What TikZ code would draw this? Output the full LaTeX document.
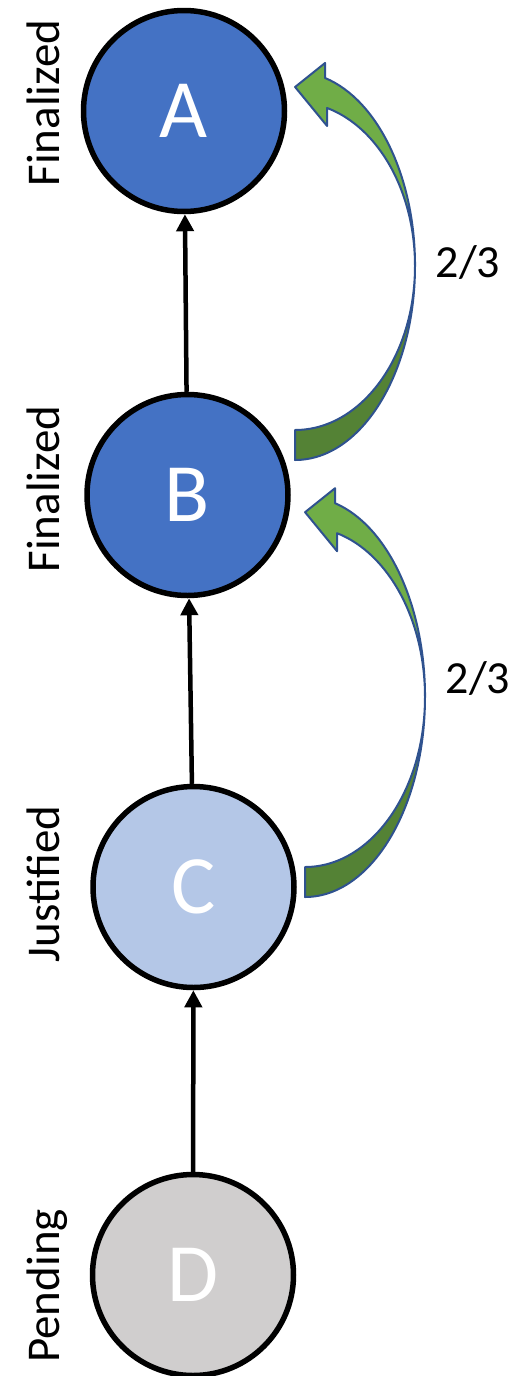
\documentclass[tikz,border=0pt]{standalone}
\usepackage{fontspec}
\setmainfont{Carlito}
\usetikzlibrary{positioning, arrows.meta}

\definecolor{finalblue}{HTML}{4472C4}
\definecolor{justblue}{HTML}{B4C7E7}
\definecolor{pendgray}{HTML}{D0CECE}
\definecolor{voteface}{HTML}{70AD47}
\definecolor{voteback}{HTML}{548235}
\definecolor{voteline}{HTML}{2F528F}

\tikzset{
    block/.style={circle, draw=black, line width=5.5pt, minimum size=201pt,
        inner sep=0pt, text=white, font=\fontsize{83}{90}\selectfont},
    status/.style={rotate=90, anchor=base, font=\fontsize{47}{56}\selectfont},
    link/.style={line width=4.5pt, -{Triangle[length=17pt,width=17pt]}},
    vote/.style={draw=voteline, line width=2pt, line join=round},
    share/.style={font=\fontsize{46}{56}\selectfont},
}

\begin{document}
\begin{tikzpicture}[x=1pt, y=-1pt]
        \useasboundingbox (0,0) rectangle (515,1376);
        % blocks with their status
        \foreach \n/\px/\py/\c/\s/\ly in {A/184/111/finalblue/Finalized/103,
                B/187.5/495/finalblue/Finalized/489,
                C/193.5/887/justblue/Justified/884,
                D/193/1275/pendgray/Pending/1286}{%
                \node[block, fill=\c] (\n) at (\px,\py) {\n};
                \node[status] (\n-status) at (59,\ly) {\s};
            }
        \draw[link] (D) -- (C);
        \draw[link] (C) -- (B);
        \draw[link] (B) -- (A);
        % votes: twisted band, back face then front face
        \foreach \tx/\ty/\cy/\lx/\ly/\v in {295/430/266/468/263/1, 305/867/697/478/678/2}{%
                \pgfmathsetmacro{\ra}{\ty-\cy}
                \pgfmathsetmacro{\rb}{\ty+30-\cy}
                \fill[voteback, vote] (\tx,\ty)
                    arc[start angle=90, end angle=0, x radius=120, y radius=\ra]
                    arc[start angle=0, end angle=90, x radius=120, y radius=\rb] -- cycle;
                \fill[voteface, vote] (\tx+120,\cy)
                    arc[start angle=0, end angle=-74.5, x radius=120, y radius=\ra]
                    -- ++(0,18) -- ++(-32,-39) -- ++(30,-24) -- ++(0,15)
                    arc[start angle=-75.5, end angle=0, x radius=120, y radius=\rb] -- cycle;
                \node[share] (share-\v) at (\lx,\ly) {2/3};
            }
    \end{tikzpicture}
\end{document}
